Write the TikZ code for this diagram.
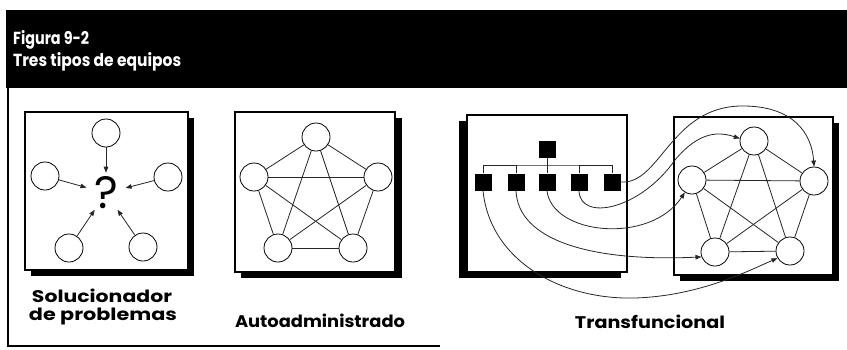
\documentclass[tikz,border=0pt]{standalone}
\usepackage{fontspec}
\usepackage{graphicx}
\newfontfamily\labfont{Poppins}
\usetikzlibrary{arrows.meta,calc}
\begin{document}
\begin{tikzpicture}[x=1pt,y=-1pt,
  ln/.style={line width=0.8pt, black!85},
  circ/.style={circle, draw, line width=0.8pt, minimum size=28pt, inner sep=0pt, fill=white},
  sq/.style={fill=black, minimum size=17pt, inner sep=0pt},
  arr/.style={line width=0.8pt, black!85, -{Triangle[length=6pt,width=4.5pt]}},
  box/.style={draw, line width=1.1pt, fill=white},
  shadowbox/.style={fill=black},
  lab/.style={inner sep=0pt, anchor=base, font=\labfont\bfseries}
]
\useasboundingbox (0,0) rectangle (847,349);
% header
\fill (6,10) rectangle (847,88);
\node[lab, text=white, anchor=base west] (h1) at (13,44) {\resizebox{76pt}{14pt}{Figura 9-2}};
\node[lab, text=white, anchor=base west] (h2) at (13,66) {\resizebox{168pt}{14pt}{Tres tipos de equipos}};
% frame
\draw[line width=1.5pt] (8,88) -- (8,346) -- (440,346);

% ---------- box 1
\fill[shadowbox] (31,118) rectangle (194,276);
\draw[box] (25,112) rectangle (188,270);
\node[circle, minimum size=40pt, inner sep=0pt] (q) at (106,193) {\resizebox{!}{32pt}{\labfont ?}};
\node[circ] (pT) at (106,133) {};
\node[circ] (pL) at (45,176) {};
\node[circ] (pR) at (168,177) {};
\node[circ] (pBL) at (69,248) {};
\node[circ] (pBR) at (143,247) {};
\foreach \n in {pT,pL,pR,pBL,pBR} \draw[arr] (\n) -- (q);
\node[lab] (l1a) at (102,302) {\resizebox{140pt}{13.5pt}{Solucionador}};
\node[lab] (l1b) at (103,320) {\resizebox{148pt}{12.5pt}{de problemas}};

% ---------- box 2
\fill[shadowbox] (241,118) rectangle (402,278);
\draw[box] (235,112) rectangle (395,272);
\node[circ] (mT) at (316,137) {};
\node[circ] (mL) at (254,177) {};
\node[circ] (mR) at (378,177) {};
\node[circ] (mBL) at (278,248) {};
\node[circ] (mBR) at (353,248) {};
\foreach \a/\b in {mT/mL,mT/mR,mT/mBL,mT/mBR,mL/mR,mL/mBL,mL/mBR,mR/mBL,mR/mBR,mBL/mBR}
  \draw[ln] (\a) -- (\b);
\node[lab] (l2) at (320,327) {\resizebox{170pt}{13.5pt}{Autoadministrado}};

% ---------- box 3 left
\fill[shadowbox] (459,121) rectangle (621,278);
\draw[box] (467,115) rectangle (627,272);
% ---------- box 3 right
\fill[shadowbox] (680,123) rectangle (839,281);
\draw[box] (674,117) rectangle (833,275);

\node[sq] (s0) at (547,149) {};
\node[sq] (s1) at (483,182) {};
\node[sq] (s2) at (516,182) {};
\node[sq] (s3) at (547,182) {};
\node[sq] (s4) at (579,182) {};
\node[sq] (s5) at (612,182) {};
\coordinate (bus) at (547,165);
\draw[ln] (s0) -- (s3);
\draw[ln] (s1.north) |- (bus) -| (s5.north);
\draw[ln] (s2.north) -- (s2.north |- bus);
\draw[ln] (s4.north) -- (s4.north |- bus);

\node[circ] (rT) at (754,141) {};
\node[circ] (rL) at (692,180) {};
\node[circ] (rR) at (814,181) {};
\node[circ] (rBL) at (715,252) {};
\node[circ] (rBR) at (790,251) {};
\foreach \a/\b in {rT/rL,rT/rR,rT/rBL,rT/rBR,rL/rR,rL/rBL,rL/rBR,rR/rBL,rR/rBR,rBL/rBR}
  \draw[ln] (\a) -- (\b);

% cross-functional connectors
\draw[arr] (s5.east) .. controls (660,185) and (670,108) .. (740,106)
  .. controls (795,105) and (812,135) .. (rR.north);
\draw[arr] (s4.south) .. controls (580,222) and (640,210) .. (675,160)
  .. controls (700,130) and (720,132) .. (rT.170);
\draw[arr] (s3.south) .. controls (552,235) and (650,245) .. (rL.240);
\draw[arr] (s2.south) .. controls (518,240) and (590,262) .. (rBL.200);
\draw[arr] (s1.south) .. controls (490,260) and (560,300) .. (635,298)
  .. controls (700,296) and (750,270) .. (rBR.210);

\node[lab] (l3) at (650,328) {\resizebox{150pt}{13.5pt}{Transfuncional}};
\end{tikzpicture}
\end{document}
